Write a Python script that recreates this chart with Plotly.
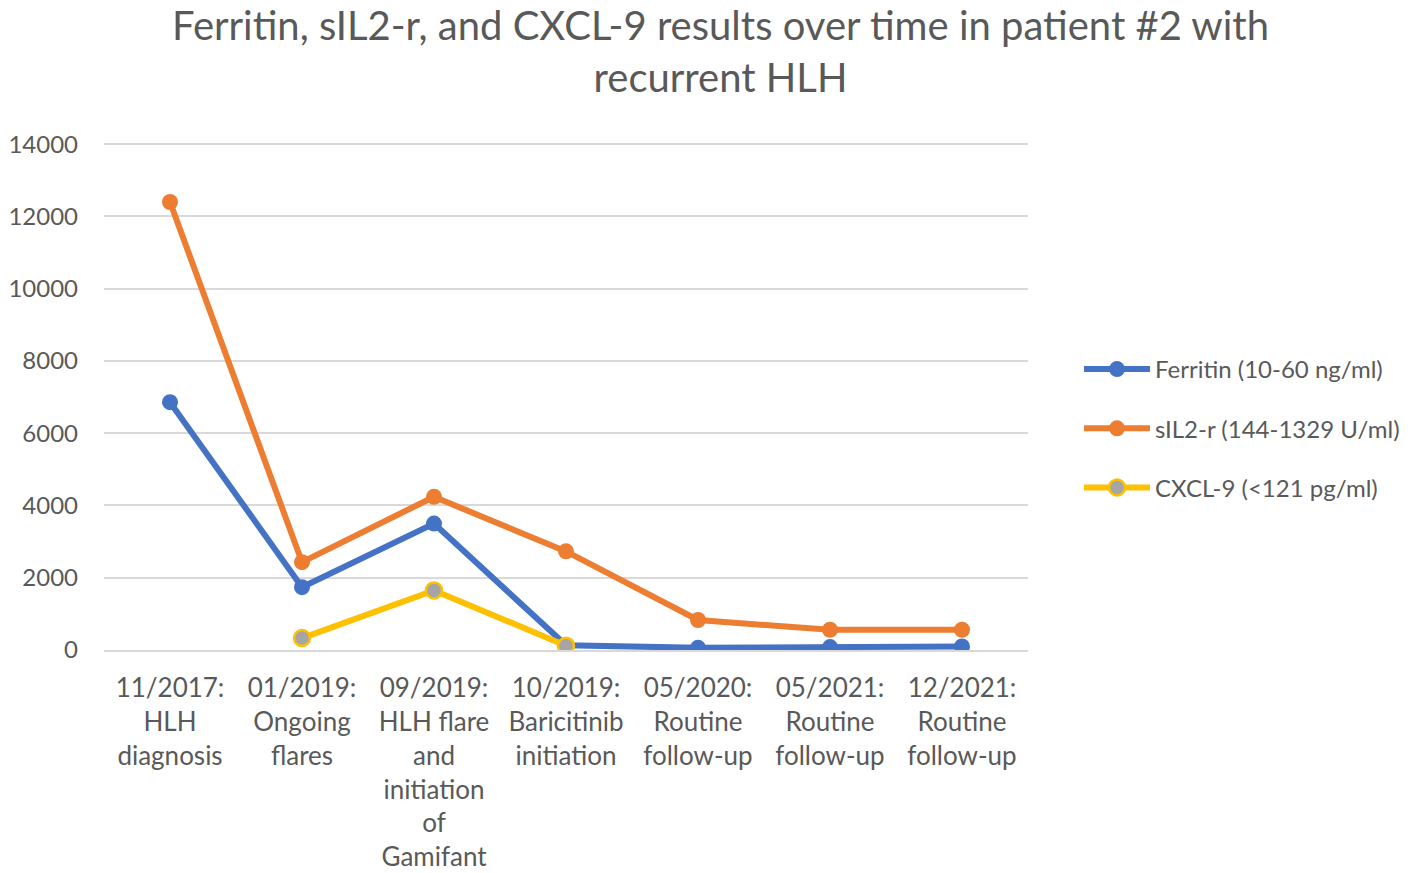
import plotly.graph_objects as go

categories = [
    "11/2017:<br>HLH<br>diagnosis",
    "01/2019:<br>Ongoing<br>flares",
    "09/2019:<br>HLH flare<br>and<br>initiation<br>of<br>Gamifant",
    "10/2019:<br>Baricitinib<br>initiation",
    "05/2020:<br>Routine<br>follow-up",
    "05/2021:<br>Routine<br>follow-up",
    "12/2021:<br>Routine<br>follow-up",
]
ferritin = [6860, 1740, 3500, 130, 60, 80, 100]
sil2r = [12400, 2430, 4240, 2730, 830, 560, 560]
cxcl9 = [None, 330, 1650, 120, None, None, None]

names = ["Ferritin (10-60 ng/ml)", "sIL2-r (144-1329 U/ml)", "CXCL-9 (<121 pg/ml)"]
yticks = [0, 2000, 4000, 6000, 8000, 10000, 12000, 14000]
yticklabels = [str(v) for v in yticks]
title_lines = ["Ferritin, sIL2-r, and CXCL-9 results over time in patient #2 with", "recurrent HLH"]

FONT = "Lato"
TXT = "#595959"

# figure is drawn inside the page body (8px default margin)
W, H = 1408, 865
ML, MT, PW, PH = 96, 134, 924, 508

fig = go.Figure()
fig.add_trace(go.Scatter(x=categories, y=ferritin, name=names[0], mode="lines+markers",
                         line=dict(color="#4472C4", width=6),
                         marker=dict(color="#4472C4", size=16, line=dict(width=0)),
                         legendgroup="a"))
fig.add_trace(go.Scatter(x=categories, y=sil2r, name=names[1], mode="lines+markers",
                         line=dict(color="#ED7D31", width=6),
                         marker=dict(color="#ED7D31", size=16, line=dict(width=0)),
                         legendgroup="b"))
fig.add_trace(go.Scatter(x=categories, y=cxcl9, name=names[2], mode="lines+markers",
                         line=dict(color="#FFC000", width=6),
                         marker=dict(color="#A5A5A5", size=16, line=dict(color="#FFC000", width=2.5)),
                         legendgroup="c", connectgaps=False))

fig.add_annotation(text="<br>".join(title_lines), xref="paper", yref="paper",
                   x=(712 - ML) / PW, y=(MT + PH - 43) / PH, xanchor="center", yanchor="middle",
                   showarrow=False, align="center",
                   font=dict(family=FONT, size=40, color=TXT))

fig.update_layout(
    width=W, height=H,
    margin=dict(l=ML, r=W - ML - PW, t=MT, b=H - MT - PH, autoexpand=False),
    paper_bgcolor="white", plot_bgcolor="white",
    font=dict(family=FONT, color=TXT, size=26),
    legend=dict(x=(1071 - ML) / PW, xanchor="left", y=(MT + PH - 339) / PH, yanchor="top",
                font=dict(family=FONT, size=24, color=TXT),
                itemwidth=66, tracegroupgap=25, bgcolor="rgba(0,0,0,0)"),
    showlegend=True,
)
fig.update_xaxes(range=[-0.5, 6.5], showgrid=False, showline=True, linecolor="#D9D9D9", linewidth=2,
                 ticks="", tickfont=dict(family=FONT, size=26, color=TXT), tickangle=0,
                 ticklabelstandoff=14, automargin=False)
fig.update_yaxes(range=[0, 14060], tickvals=yticks, ticktext=yticklabels,
                 showgrid=True, gridcolor="#D9D9D9", gridwidth=2,
                 zeroline=False, showline=False, ticks="", ticklabelstandoff=25,
                 tickfont=dict(family=FONT, size=24, color=TXT), automargin=False)

fig.write_html("out.html")
